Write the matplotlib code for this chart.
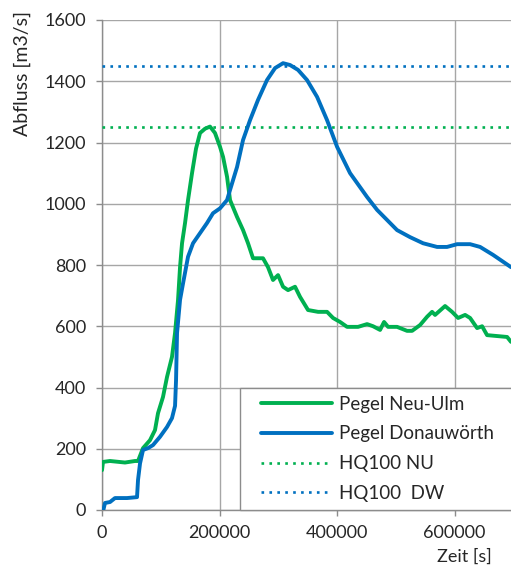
import numpy as np
import matplotlib
matplotlib.use("Agg")
import matplotlib.pyplot as plt
from matplotlib.patches import Rectangle

plt.rcParams['font.family'] = ['Lato', 'DejaVu Sans']

# Pegel Neu-Ulm (Zeit in s, Abfluss in m3/s)
t_nu = [0, 1700, 13600, 39100, 56200, 61300, 69800, 81700, 90200, 95300,
        103800, 110600, 119100, 124300, 129400, 132800, 136200, 141300, 146400,
        153200, 160000, 166800, 175300, 183800, 192300, 200800, 206000, 212800,
        217900, 229800, 240000, 248500, 257000, 274000, 282500, 291000, 299600,
        308100, 316600, 328500, 337000, 350600, 367700, 383000, 393200, 405100,
        417000, 435700, 451100, 461300, 473200, 480000, 486800, 502100, 519100,
        527700, 541300, 553200, 561700, 566800, 583800, 595700, 606000, 617900,
        626400, 638300, 646800, 655300, 672300, 689400, 696000]
q_nu = [130, 157, 160, 155, 160, 160, 202, 228, 261, 316,
        369, 434, 500, 578, 686, 793, 871, 937, 1012,
        1100, 1180, 1231, 1245, 1252, 1231, 1186, 1153, 1088,
        1012, 957, 914, 871, 822, 822, 793, 751, 767,
        729, 718, 729, 696, 653, 647, 647, 627, 614,
        598, 598, 607, 600, 588, 614, 598, 598, 585,
        585, 604, 631, 647, 637, 666, 647, 627, 637,
        627, 594, 600, 571, 568, 565, 549]

# Pegel Donauwoerth
t_dw = [1700, 5100, 13600, 22100, 42600, 59600, 61300, 64700, 69800, 78300,
        86800, 98700, 110600, 119100, 124300, 126000, 127700, 132800, 137900,
        146400, 154900, 166800, 178700, 188900, 200800, 212800, 217900, 229800,
        240000, 251900, 265500, 280800, 294500, 308100, 320000, 333600, 348900,
        366000, 383000, 400000, 422100, 451100, 468100, 485100, 502100, 524200,
        546400, 570200, 587200, 604300, 626400, 643400, 665500, 696000]
q_dw = [-5, 23, 26, 39, 39, 42, 98, 152, 196, 202,
        212, 239, 271, 300, 340, 424, 578, 686, 740,
        827, 871, 904, 937, 969, 985, 1012, 1045, 1120,
        1208, 1273, 1339, 1404, 1443, 1459, 1453, 1437, 1404,
        1349, 1273, 1186, 1100, 1022, 980, 947, 914, 891,
        871, 859, 859, 868, 868, 859, 833, 793]

hq100_nu = 1250
hq100_dw = 1450

green = '#00B050'
blue = '#0070C0'
grid_c = '#a6a6a6'
text_c = '#262626'

fig = plt.figure(figsize=(5.11, 5.66), dpi=100)
ax = fig.add_axes([102 / 511, 56 / 566, 409 / 511, 490 / 566])

l1, = ax.plot(t_nu, q_nu, color=green, lw=2.8, solid_capstyle='round', zorder=4)
l2, = ax.plot(t_dw, q_dw, color=blue, lw=2.8, solid_capstyle='round', zorder=4)
l3 = ax.axhline(hq100_nu, color=green, lw=1.9, ls=(0, (1, 2)), zorder=3)
l4 = ax.axhline(hq100_dw, color=blue, lw=1.9, ls=(0, (1, 2)), zorder=3)

ax.set_xlim(0, 696000)
ax.set_ylim(0, 1600)
ax.set_yticks(np.arange(0, 1601, 200))
ax.set_xticks([0, 200000, 400000, 600000])
ax.grid(True, color=grid_c, lw=1)
ax.set_axisbelow(True)
for s in ['top', 'right']:
    ax.spines[s].set_visible(False)
for s in ['left', 'bottom']:
    ax.spines[s].set_color('#8c8c8c')
    ax.spines[s].set_linewidth(1)
ax.tick_params(axis='both', colors='#8c8c8c', labelcolor=text_c, labelsize=13,
               length=4.5, width=1)
ax.tick_params(axis='x', pad=6)
ax.tick_params(axis='y', pad=7)

# Legendenkasten unten rechts
box = Rectangle(((240 - 102) / 409, 0), 1.0, (510 - 388) / 490,
                transform=ax.transAxes, facecolor='white', edgecolor='#8c8c8c',
                lw=1, zorder=5, clip_on=False)
ax.add_patch(box)
leg = ax.legend([l1, l2, l3, l4],
                ['Pegel Neu-Ulm', 'Pegel Donauwörth', 'HQ100 NU', 'HQ100  DW'],
                loc='upper left', bbox_to_anchor=((257 - 102) / 409, (510 - 392) / 490),
                frameon=False, fontsize=13.5, handlelength=3.8, handletextpad=0.35,
                labelspacing=0.68, borderpad=0.2, borderaxespad=0)
leg.set_zorder(6)
for t in leg.get_texts():
    t.set_color(text_c)

fig.text(22 / 511, 1 - 11 / 566, 'Abfluss [m3/s]', rotation=90, ha='center', va='top',
         fontsize=14, color=text_c)
fig.text(464 / 511, 1 - 557 / 566, 'Zeit [s]', ha='center', va='center',
         fontsize=13, color=text_c)

fig.savefig('out.png', dpi=100)
